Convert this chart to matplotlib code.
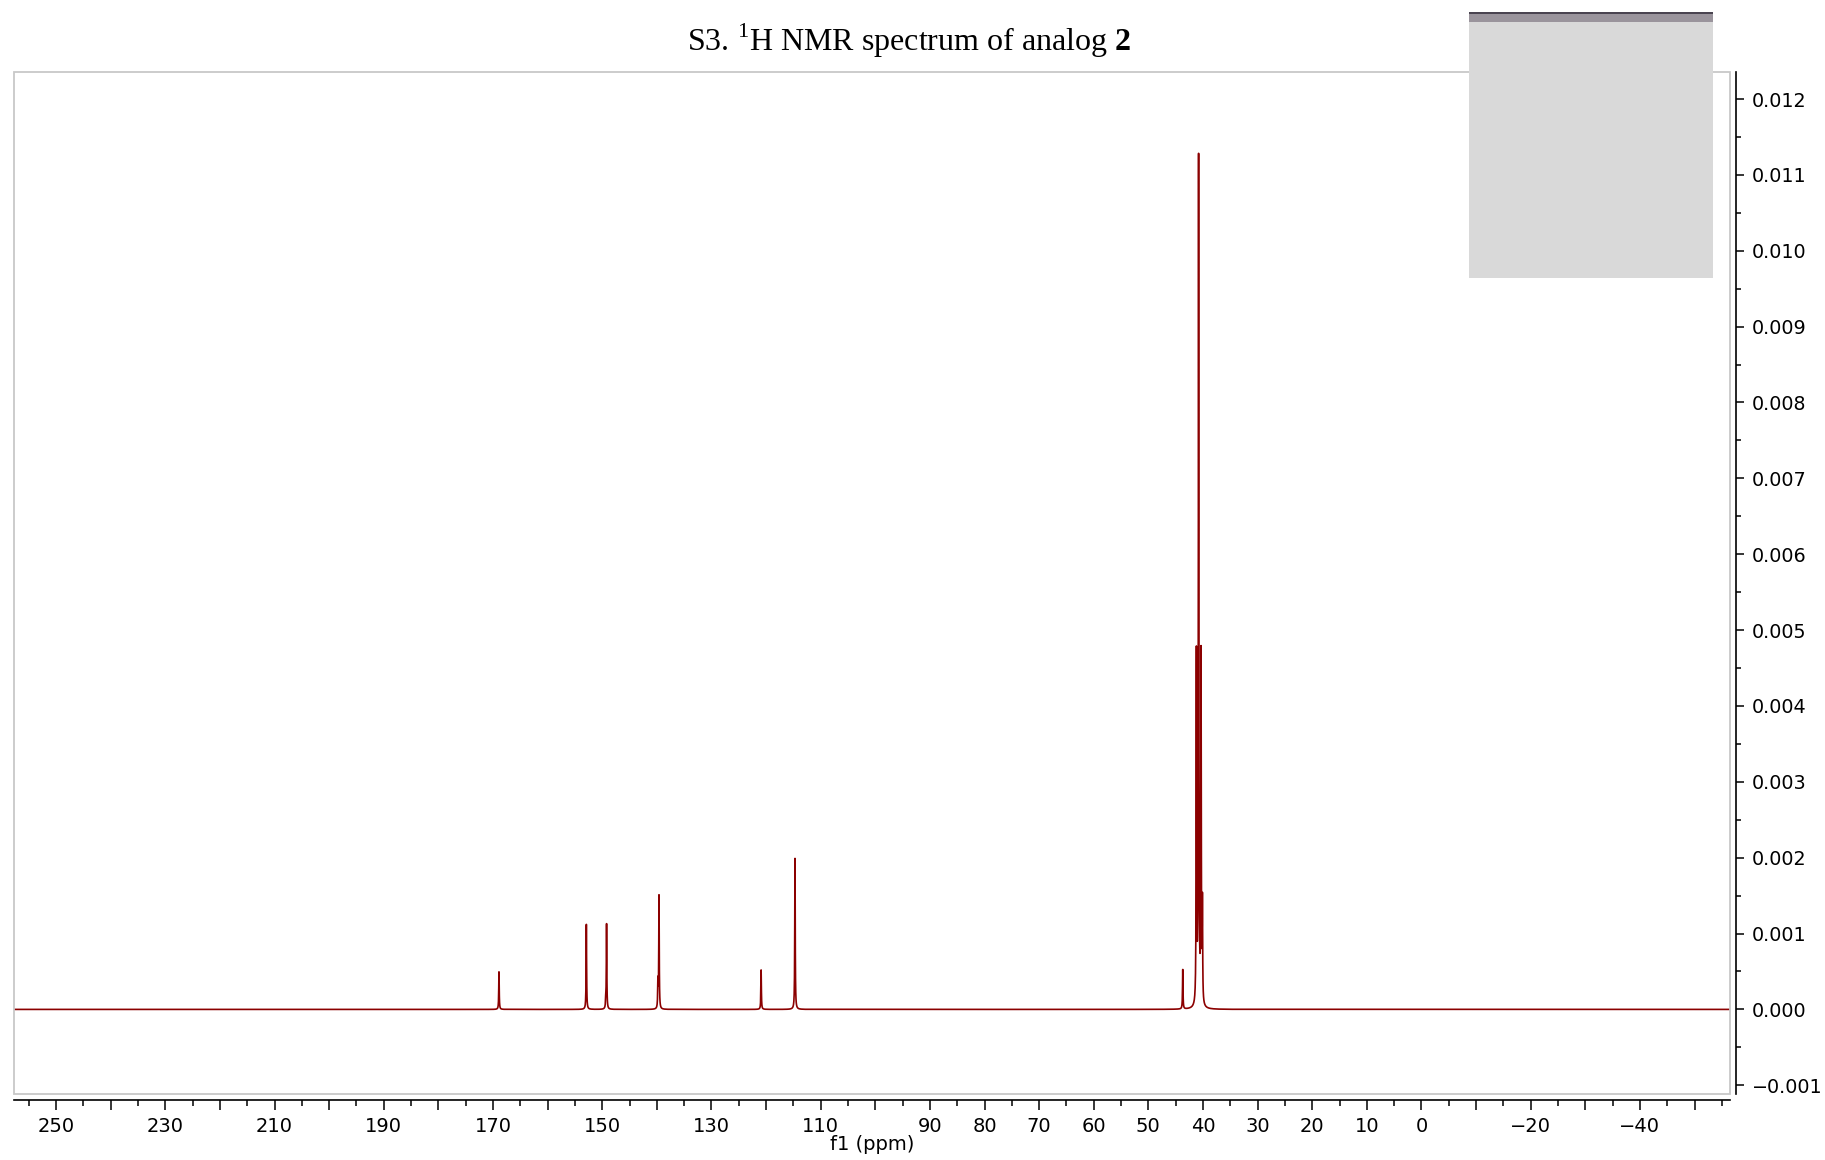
import numpy as np
import matplotlib
matplotlib.use('Agg')
import matplotlib.pyplot as plt
from matplotlib.patches import Rectangle
from matplotlib.ticker import FixedLocator, FuncFormatter, MultipleLocator

# peak list (ppm, intensity)
peak_ppm = [168.9, 152.9, 149.2, 149.35, 139.6, 139.8, 120.9, 114.7,
            43.7, 41.2, 40.8, 40.35, 40.1]
peak_int = [0.000495, 0.00112, 0.00112, 0.00010, 0.00149, 0.00035, 0.00052, 0.00199,
            0.00052, 0.0046, 0.01115, 0.0046, 0.0013]
peak_hw = 0.05  # half width, ppm

x_major = list(range(-50, 251, 10))
x_labels = [250, 230, 210, 190, 170, 150, 130, 110, 90, 80, 70, 60, 50, 40, 30, 20, 10, 0, -20, -40]
y_major = [i / 1000 for i in range(-1, 13)]

xlim = (257.7, -56.5)
ylim = (-0.001115, 0.012356)

# spectrum from the peak list (lorentzian lines)
ppm = np.arange(xlim[1], xlim[0], 0.004)
spec = np.zeros_like(ppm)
for p, h in zip(peak_ppm, peak_int):
    spec += h / (1 + ((ppm - p) / peak_hw) ** 2)

plt.rcParams['font.family'] = ['DejaVu Sans']
plt.rcParams['mathtext.fontset'] = 'custom'
plt.rcParams['mathtext.rm'] = 'Liberation Serif'
plt.rcParams['mathtext.bf'] = 'Liberation Serif:bold'

fig = plt.figure(figsize=(18.25, 11.6), dpi=100)
L, R, B, T = 14 / 1825, 1730 / 1825, 1 - 1094 / 1160, 1 - 72 / 1160
ax = fig.add_axes([L, B, R - L, T - B])

ax.plot(ppm, spec, color='#8b0000', lw=1.2)
ax.set_xlim(*xlim)
ax.set_ylim(*ylim)

# light gray frame around the plot area
ax.add_patch(Rectangle((0, 0), 1, 1, transform=ax.transAxes, fill=False,
                       edgecolor='#c8c8c8', lw=1.3, clip_on=False, zorder=5))

for s in ['left', 'top']:
    ax.spines[s].set_visible(False)
ax.spines['bottom'].set_position(('outward', 4.3))
ax.spines['right'].set_position(('outward', 4.6))
ax.spines['bottom'].set_linewidth(1.2)
ax.spines['right'].set_linewidth(1.2)

ax.xaxis.set_major_locator(FixedLocator(x_major))
ax.xaxis.set_minor_locator(MultipleLocator(5))
ax.xaxis.set_major_formatter(FuncFormatter(
    lambda v, pos: (str(int(round(v))).replace('-', '\u2212') if int(round(v)) in x_labels else '')))
ax.tick_params(axis='x', which='major', direction='out', length=7.5, width=1.1, pad=5, labelsize=14)
ax.tick_params(axis='x', which='minor', direction='out', length=4, width=1.1)

ax.yaxis.tick_right()
ax.yaxis.set_major_locator(FixedLocator(y_major))
ax.yaxis.set_minor_locator(MultipleLocator(0.0005))
ax.yaxis.set_major_formatter(FuncFormatter(lambda v, pos: ('%.3f' % v).replace('-', '\u2212')))
ax.tick_params(axis='y', which='major', direction='out', length=5.5, width=1.1, pad=5.5, labelsize=13.8)
ax.tick_params(axis='y', which='minor', direction='out', length=3.5, width=1.1)

ax.set_xlabel('f1 (ppm)', fontsize=14, labelpad=-1)

fig.text(0.498, 0.9647, r'S3. $^{1}$H NMR spectrum of analog $\mathbf{2}$',
         ha='center', va='center', fontsize=23, family='Liberation Serif')

# gray redaction box in the top right corner
fig.patches.append(Rectangle((1469 / 1825, 1 - 278 / 1160), 244 / 1825, 266 / 1160,
                             transform=fig.transFigure, facecolor='#d9d9d9',
                             edgecolor='none', zorder=10))
fig.patches.append(Rectangle((1469 / 1825, 1 - 22 / 1160), 244 / 1825, 10 / 1160,
                             transform=fig.transFigure, facecolor='#9a949c',
                             edgecolor='none', zorder=11))
fig.patches.append(Rectangle((1469 / 1825, 1 - 14 / 1160), 244 / 1825, 2 / 1160,
                             transform=fig.transFigure, facecolor='#4a4450',
                             edgecolor='none', zorder=12))

fig.savefig('out.png', dpi=100)
